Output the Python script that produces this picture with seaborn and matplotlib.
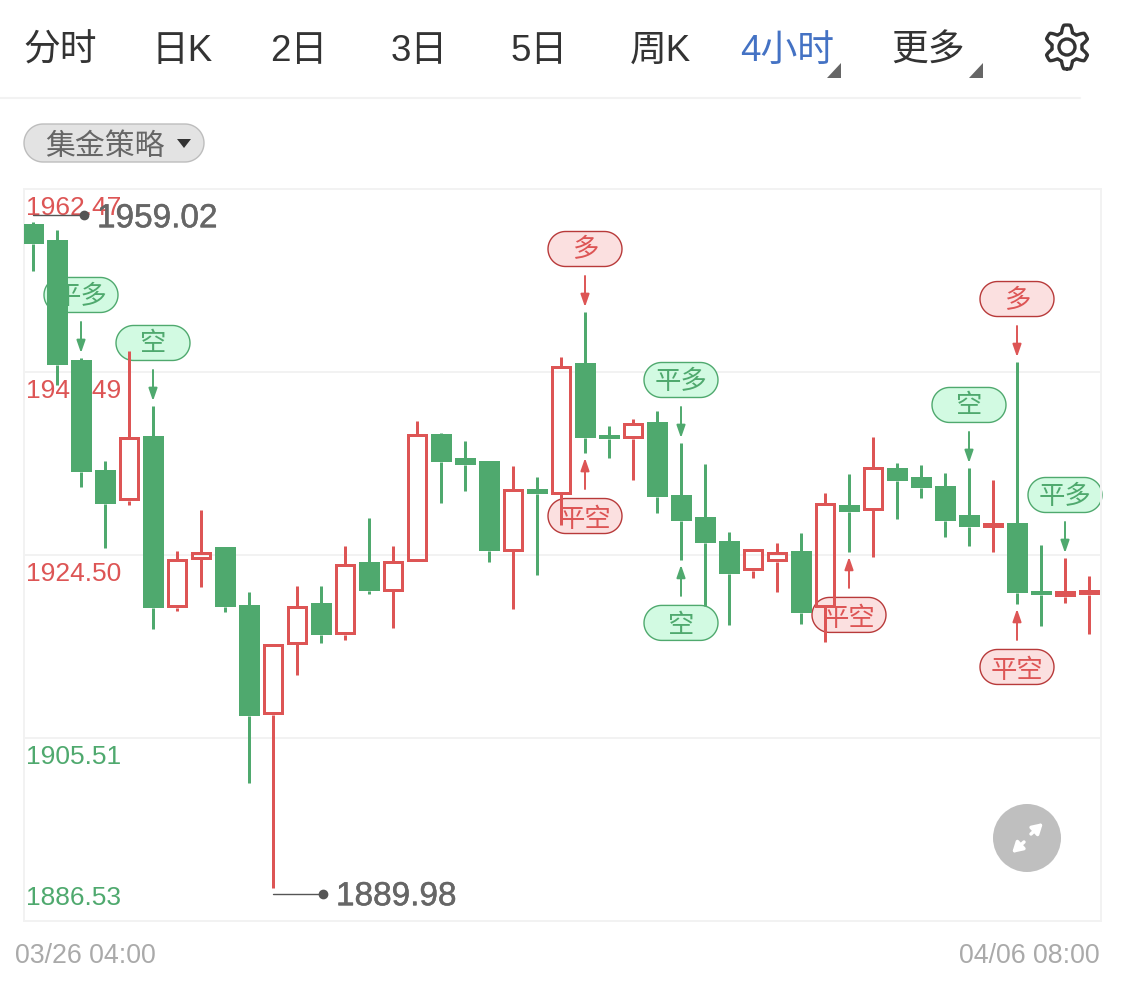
import numpy as np
import pandas as pd
import seaborn as sns
import matplotlib.pyplot as plt
import matplotlib.patheffects as pe
from matplotlib.patches import Circle, Polygon
from matplotlib.transforms import Affine2D

# candle values
opens = [1958.84, 1957.18, 1944.73, 1933.32, 1930.11, 1936.85, 1919.01, 1924.09, 1925.33, 1919.32,
         1907.91, 1915.27, 1919.53, 1916.21, 1923.78, 1920.77, 1923.78, 1937.06, 1934.57, 1934.26,
         1924.92, 1931.35, 1930.83, 1944.42, 1936.95, 1936.54, 1938.30, 1930.73, 1928.45, 1925.96,
         1922.85, 1923.78, 1924.92, 1919.11, 1929.69, 1929.17, 1933.53, 1932.60, 1931.66, 1928.65,
         1927.41, 1927.82, 1920.77, 1920.15, 1920.36]
closes = [1956.76, 1944.21, 1933.11, 1929.80, 1936.74, 1919.01, 1924.09, 1924.82, 1919.11, 1907.81,
          1915.27, 1919.22, 1916.21, 1923.57, 1920.77, 1923.88, 1937.06, 1934.15, 1933.84, 1924.92,
          1931.35, 1930.83, 1944.11, 1936.64, 1936.54, 1938.20, 1930.52, 1928.03, 1925.75, 1922.53,
          1925.13, 1924.82, 1918.49, 1929.90, 1928.97, 1933.63, 1932.18, 1931.45, 1928.03, 1927.41,
          1927.82, 1920.56, 1920.36, 1920.77, 1920.87]
highs = [1959.02, 1958.21, 1944.94, 1934.26, 1945.66, 1939.96, 1924.92, 1929.17, 1925.33, 1920.67,
         1915.27, 1921.29, 1921.29, 1925.44, 1928.34, 1925.44, 1938.40, 1937.16, 1936.33, 1934.26,
         1933.74, 1932.60, 1945.04, 1949.71, 1937.88, 1938.61, 1939.44, 1936.12, 1933.94, 1926.89,
         1925.13, 1925.75, 1926.79, 1930.94, 1932.91, 1936.74, 1934.05, 1933.84, 1933.01, 1933.53,
         1932.28, 1944.52, 1925.54, 1924.19, 1922.33]
lows = [1953.96, 1942.14, 1931.56, 1925.23, 1929.69, 1916.83, 1918.70, 1921.19, 1918.59, 1900.86,
        1889.98, 1912.06, 1915.38, 1915.69, 1920.46, 1916.93, 1923.78, 1929.90, 1931.14, 1923.78,
        1918.90, 1922.43, 1927.62, 1935.08, 1934.57, 1932.28, 1928.86, 1923.99, 1919.22, 1917.24,
        1922.12, 1920.67, 1917.35, 1915.48, 1924.82, 1924.30, 1928.24, 1930.42, 1926.37, 1925.44,
        1924.82, 1919.42, 1917.14, 1919.53, 1916.31]

# strategy signals: candle index, label, side of the candle
signal_idx = [2, 5, 23, 23, 27, 27, 34, 39, 41, 41, 43]
signal_text = ["平多", "空", "多", "平空", "平多", "空", "平空", "空", "多", "平空", "平多"]
signal_side = ["top", "top", "top", "bottom", "top", "bottom", "bottom", "top", "top", "bottom", "top"]

price_ticks = [1962.47, 1943.49, 1924.50, 1905.51, 1886.53]
price_labels = ["1962.47", "1943.49", "1924.50", "1905.51", "1886.53"]
date_labels = ["03/26 04:00", "04/06 08:00"]
tabs = ["分时", "日K", "2日", "3日", "5日", "周K", "4小时", "更多"]
tab_x = [60, 182, 299, 419, 539, 660, 787, 928]

GREEN = "#4fa96e"
RED = "#dd5555"
W, H = 1125, 986

sns.set_style("white", {"axes.edgecolor": "#f2f2f2", "grid.color": "#f2f2f2"})
plt.rcParams["font.family"] = ["Liberation Sans", "Noto Sans CJK SC"]


def stadium(cx, cy, w, h):
    # outline of a fully rounded pill, in pixels
    r = h / 2
    a = np.linspace(-np.pi / 2, np.pi / 2, 40)
    right = np.c_[cx + w / 2 - r + r * np.cos(a), cy + r * np.sin(a)]
    left = np.c_[cx - w / 2 + r - r * np.cos(a), cy - r * np.sin(a)]
    return np.vstack([right, left])


df = pd.DataFrame({"idx": range(len(opens)), "open": opens, "close": closes, "high": highs, "low": lows})
df["body_top"] = df[["open", "close"]].max(axis=1)
df["body_bottom"] = df[["open", "close"]].min(axis=1)
df["up"] = df["close"] > df["open"]
df["height"] = df["body_top"] - df["body_bottom"]

fig = plt.figure(figsize=(W / 100, H / 100), dpi=100)
ax = fig.add_axes([24 / W, 1 - 921 / H, (1101 - 24) / W, (921 - 189) / H])
order = list(range(len(df)))

# bodies, filled green for falling and hollow red for rising candles
down = df[~df["up"]]
up = df[df["up"]]
# the hollow outline straddles its edge, so pull it in by half a stroke
inset = 0.15
sns.barplot(data=down, x="idx", y="height", order=order, bottom=down["body_bottom"].values, color=GREEN,
            saturation=1, width=0.875, linewidth=0, errorbar=None, zorder=3, ax=ax)
sns.barplot(x=up["idx"], y=up["height"] - 2 * inset, order=order, bottom=up["body_bottom"].values + inset, color=RED,
            saturation=1, width=0.72, fill=False, linewidth=2.16, errorbar=None, zorder=3, ax=ax)

# wicks
for part in [down, up]:
    c = GREEN if part is down else RED
    ax.vlines(part["idx"], part["body_top"], part["high"], color=c, lw=2.16, zorder=3)
    ax.vlines(part["idx"], part["low"], part["body_bottom"], color=c, lw=2.16, zorder=3)

ax.set_xlim(-0.375, 44.5)
ax.set_ylim(price_ticks[-1], price_ticks[0])
ax.set_yticks(price_ticks)
ax.set_xticks([])
ax.set_yticklabels([])
ax.set_xlabel("")
ax.set_ylabel("")
ax.tick_params(length=0)
ax.grid(axis="y", lw=1.4, zorder=0.5)
ax.set_axisbelow(True)
for s in ax.spines.values():
    s.set_linewidth(1.4)


def off(dx, dy):
    # shift from data position by screen pixels, dy positive is downwards
    return ax.transData + Affine2D().translate(dx, -dy)


# price labels sit inside the plot, under the candles
for i, (p, lab) in enumerate(zip(price_ticks, price_labels)):
    dy = -23 if i == len(price_ticks) - 1 else 19
    ax.text(-0.375, p, lab, color=RED if i < 3 else GREEN, fontsize=19, va="center", ha="left",
            transform=off(2, dy), zorder=1)

# signals
for i, txt, side in zip(signal_idx, signal_text, signal_side):
    is_red = txt in ["多", "平空"]
    c_line = RED if is_red else GREEN
    edge = "#b83a3a" if is_red else GREEN
    face = "#fbe0e0" if is_red else "#d2fae2"
    sgn = -1 if side == "top" else 1
    price = highs[i] if side == "top" else lows[i]
    cx, cy = ax.transData.transform((i, price))
    pill = Polygon(stadium(cx, cy - sgn * 63, 74, 35), closed=True, transform=None,
                   facecolor=face, edgecolor=edge, lw=1.0, zorder=2, clip_on=False)
    ax.add_artist(pill)
    ax.text(i, price, txt, color=c_line, fontsize=19, ha="center", va="center_baseline",
            transform=off(0, sgn * 64), zorder=2.5)
    ax.annotate("", xy=(i, price), xytext=(0, -sgn * 36), xycoords="data", textcoords="offset pixels",
                arrowprops=dict(arrowstyle="-|>,head_width=0.26,head_length=0.75", color=c_line, lw=1.4,
                                shrinkA=0, shrinkB=3.6), zorder=2.5)

# high and low markers
bold = [pe.withStroke(linewidth=0.35, foreground="#666666")]
hi_i = int(np.argmax(highs))
lo_i = int(np.argmin(lows))
ax.plot([hi_i, hi_i + 51 / 24], [highs[hi_i], highs[hi_i]], color="#555555", lw=1, transform=off(0, -7), zorder=4)
ax.plot([hi_i + 51 / 24], [highs[hi_i]], "o", color="#555555", ms=6, transform=off(0, -7), zorder=4)
ax.text(hi_i + 64 / 24, highs[hi_i], f"{highs[hi_i]:.2f}", color="#666666", fontsize=24, va="center", ha="left",
        transform=off(0, -3.5), zorder=4, path_effects=bold)
ax.plot([lo_i, lo_i + 50 / 24], [lows[lo_i], lows[lo_i]], color="#555555", lw=1, transform=off(0, 6), zorder=4)
ax.plot([lo_i + 50 / 24], [lows[lo_i]], "o", color="#555555", ms=6, transform=off(0, 6), zorder=4)
ax.text(lo_i + 63 / 24, lows[lo_i], f"{lows[lo_i]:.2f}", color="#666666", fontsize=24, va="center", ha="left",
        transform=off(0, 9), zorder=4, path_effects=bold)

# everything outside the plot in a full-figure pixel layer
ui = fig.add_axes([0, 0, 1, 1], facecolor="none")
ui.set_xlim(0, W)
ui.set_ylim(H, 0)
ui.axis("off")

for lab, x in zip(tabs, tab_x):
    ui.text(x, 47, lab, fontsize=26.5, color="#4472c4" if lab == "4小时" else "#333333", ha="center",
            va="center_baseline")
for x in [841, 983]:
    ui.add_patch(Polygon([[x, 63], [x, 78], [x - 14, 78]], color="#666666", lw=0))

# settings gear
t = np.linspace(0, 2 * np.pi, 361)
r = 18.5 + 3.5 * np.clip(1.6 * np.cos(6 * t), -1, 1)
ui.plot(1067 + r * np.sin(t), 47 + r * np.cos(t), color="#333333", lw=2.4)
ui.add_patch(Circle((1067, 47), 8, fill=False, edgecolor="#333333", lw=2.4))

ui.plot([0, 1080], [98, 98], color="#f2f2f2", lw=1.5)

ui.add_patch(Polygon(stadium(114, 143, 180, 38), closed=True, facecolor="#e3e3e3", edgecolor="#bdbdbd", lw=1))
ui.text(105, 144, "集金策略", fontsize=21.5, color="#666666", ha="center", va="center_baseline")
ui.add_patch(Polygon([[177, 139], [191, 139], [184, 148]], color="#333333", lw=0))

ui.text(15, 956, date_labels[0], fontsize=19.3, color="#aaaaaa", ha="left", va="center")
ui.text(1100, 956, date_labels[1], fontsize=19.3, color="#aaaaaa", ha="right", va="center")

# expand button
ui.add_patch(Circle((1027, 838), 34, color="#bfbfbf", lw=0))
for tip, tail in [((1043, 823), (1031, 834)), ((1012, 853), (1024, 842))]:
    ui.annotate("", xy=tip, xytext=tail,
                arrowprops=dict(arrowstyle="-|>,head_width=0.35,head_length=0.6", color="white", lw=2.5,
                                shrinkA=0, shrinkB=0))

fig.savefig("out.png", dpi=100, facecolor="white")
